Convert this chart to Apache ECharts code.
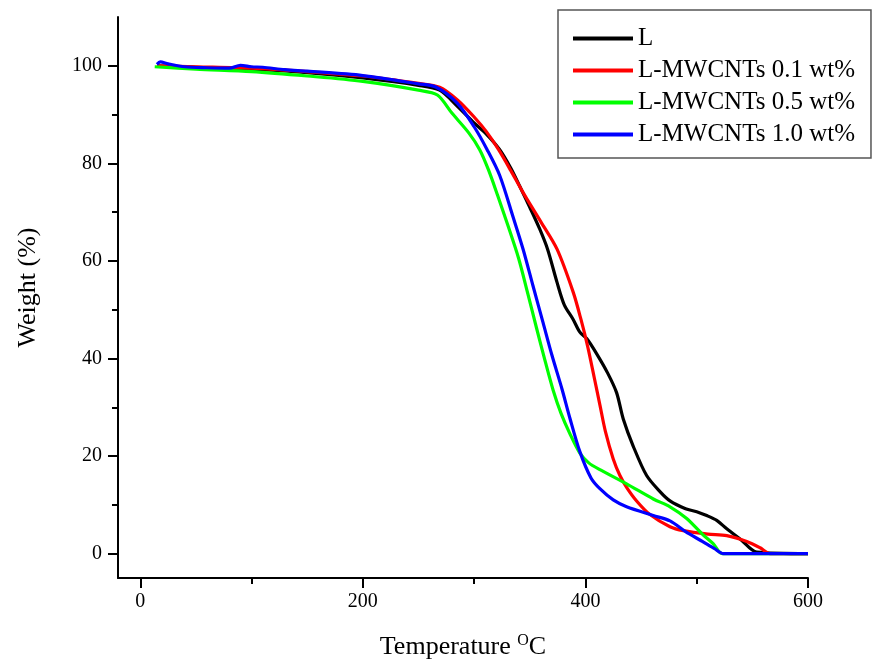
<!DOCTYPE html>
<html>
<head>
<meta charset="utf-8">
<script src="https://cdn.jsdelivr.net/npm/echarts@6/dist/echarts.min.js"></script>
<style>
  html, body { margin: 0; padding: 0; background: #fff; }
  #chart { width: 872px; height: 665px; }
</style>
</head>
<body>
<div id="chart"></div>
<script>
// TGA curves: temperature (°C) vs. residual weight (%)
const seriesNames = ['L', 'L-MWCNTs 0.1 wt%', 'L-MWCNTs 0.5 wt%', 'L-MWCNTs 1.0 wt%'];
const seriesColors = ['#000000', '#ff0000', '#00ff00', '#0000ff'];

const tempL = [15, 50, 100, 150, 200, 250, 269, 285, 300, 311, 323, 333, 341, 350, 359, 366, 374.5, 381, 389, 395, 401.5, 410, 420, 428, 434, 443, 455, 467, 476, 490, 500, 509, 518, 527, 540, 554, 600];
const weightL = [100, 99.7, 99.3, 98.6, 97.5, 96, 95, 91.7, 88.3, 86, 82.8, 79, 75.3, 71, 66.5, 62.4, 55.6, 51, 48, 45.4, 44, 41, 37, 33, 27.6, 22, 16, 12.7, 10.8, 9.2, 8.6, 7.8, 6.8, 5.1, 2.8, 0.3, 0];

const tempR = [15, 50, 100, 150, 200, 250, 269, 285, 300, 311, 322, 333, 344, 360, 374.5, 389, 396, 402, 408, 413, 418, 425, 431, 437, 446, 458, 476, 488, 510, 527, 545, 557, 566, 600];
const weightR = [100, 99.8, 99.5, 98.8, 97.9, 96.4, 95.6, 93, 89.5, 86.5, 82.8, 78.5, 74, 68, 62.4, 53.6, 48, 42.5, 36, 30.5, 25, 19.4, 16, 13.6, 10.8, 8, 5.5, 4.7, 4.0, 3.7, 2.5, 1.2, 0, 0];

const tempG = [13, 50, 100, 150, 200, 250, 267, 280, 295, 305, 313, 321, 330, 340, 348, 356, 364, 371, 378, 386, 395, 403, 413, 437, 461, 476, 491, 505, 515, 523, 600];
const weightG = [99.8, 99.3, 98.8, 97.9, 96.8, 95, 94, 90.3, 86.3, 82.8, 78.6, 73.5, 67.5, 60.5, 53.5, 46.3, 39.3, 33.5, 28.8, 24.6, 20.6, 18.6, 17.2, 14.3, 11.2, 9.6, 7.2, 4, 2, 0, 0];

const tempB = [15, 18, 25, 40, 60, 80, 90, 100, 110, 130, 150, 200, 250, 266, 285, 300, 311.7, 323, 335, 344, 353, 362, 370, 379, 386, 395, 405, 413, 425, 437, 461, 476, 490, 505, 516, 524, 600];
const weightB = [100.3, 100.8, 100.4, 99.8, 99.6, 99.5, 100.1, 99.8, 99.7, 99.2, 98.9, 98, 96.3, 95.6, 92.3, 87.5, 82.8, 77.5, 69, 62.4, 54.8, 47.3, 40.6, 33.7, 27.8, 20.9, 15.5, 13.3, 11, 9.6, 7.8, 6.7, 4.5, 2.5, 1, 0, 0];

const xMajorTicks = [0, 200, 400, 600];
const xMinorTicks = [100, 300, 500];
const yMajorTicks = [0, 20, 40, 60, 80, 100];
const yMinorTicks = [10, 30, 50, 70, 90];

const temps = [tempL, tempR, tempG, tempB];
const weights = [weightL, weightR, weightG, weightB];

const FONT = '"Liberation Serif", "DejaVu Serif", serif';

const pairs = (xs, ys) => xs.map((x, i) => [x, ys[i]]);

const chart = echarts.init(document.getElementById('chart'), null, { renderer: 'canvas' });

const baseX = { type: 'value', min: -20, max: 600, splitLine: { show: false } };
const baseY = { type: 'value', min: -5, max: 110, splitLine: { show: false } };

chart.setOption({
  backgroundColor: '#ffffff',
  animation: false,
  grid: { left: 118, right: 64, top: 17, bottom: 85, containLabel: false },
  legend: {
    orient: 'vertical',
    left: 558,
    top: 10,
    padding: [16, 16, 11, 15],
    itemGap: 7,
    itemWidth: 60,
    itemHeight: 4,
    icon: 'rect',
    borderColor: '#555555',
    borderWidth: 1.5,
    backgroundColor: '#ffffff',
    data: seriesNames,
    textStyle: { fontFamily: FONT, fontSize: 25, color: '#000', lineHeight: 25 }
  },
  xAxis: [
    Object.assign({}, baseX, {
      position: 'bottom',
      name: 'Temperature {sup|O}C',
      nameLocation: 'middle',
      nameGap: 55,
      nameTextStyle: {
        fontFamily: FONT, fontSize: 26, color: '#000',
        rich: { sup: { fontFamily: FONT, fontSize: 16, verticalAlign: 'bottom', padding: [0, 0, 12, 0], color: '#000' } }
      },
      axisLine: { show: true, onZero: false, lineStyle: { color: '#000', width: 2 } },
      axisTick: { show: true, inside: false, length: 10, customValues: xMajorTicks, lineStyle: { color: '#000', width: 2 } },
      axisLabel: { show: true, margin: 14, customValues: xMajorTicks, fontFamily: FONT, fontSize: 20, color: '#000' }
    }),
    Object.assign({}, baseX, {
      position: 'bottom',
      axisLine: { show: false, onZero: false },
      axisTick: { show: true, inside: false, length: 6, customValues: xMinorTicks, lineStyle: { color: '#000', width: 2 } },
      axisLabel: { show: false }
    })
  ],
  yAxis: [
    Object.assign({}, baseY, {
      position: 'left',
      name: 'Weight (%)',
      nameLocation: 'middle',
      nameGap: 77,
      nameTextStyle: { fontFamily: FONT, fontSize: 26, color: '#000', padding: [0, 0, 0, 20] },
      axisLine: { show: true, onZero: false, lineStyle: { color: '#000', width: 2 } },
      axisTick: { show: true, inside: false, length: 10, customValues: yMajorTicks, lineStyle: { color: '#000', width: 2 } },
      axisLabel: { show: true, margin: 16, customValues: yMajorTicks, fontFamily: FONT, fontSize: 20, color: '#000' }
    }),
    Object.assign({}, baseY, {
      position: 'left',
      axisLine: { show: false, onZero: false },
      axisTick: { show: true, inside: false, length: 6, customValues: yMinorTicks, lineStyle: { color: '#000', width: 2 } },
      axisLabel: { show: false }
    })
  ],
  series: seriesNames.map((name, i) => ({
    name: name,
    type: 'line',
    xAxisIndex: 0,
    yAxisIndex: 0,
    data: pairs(temps[i], weights[i]),
    showSymbol: false,
    symbol: 'none',
    smooth: 0.3,
    color: seriesColors[i],
    lineStyle: { color: seriesColors[i], width: 3.2 },
    z: 2 + i
  }))
});
</script>
</body>
</html>
